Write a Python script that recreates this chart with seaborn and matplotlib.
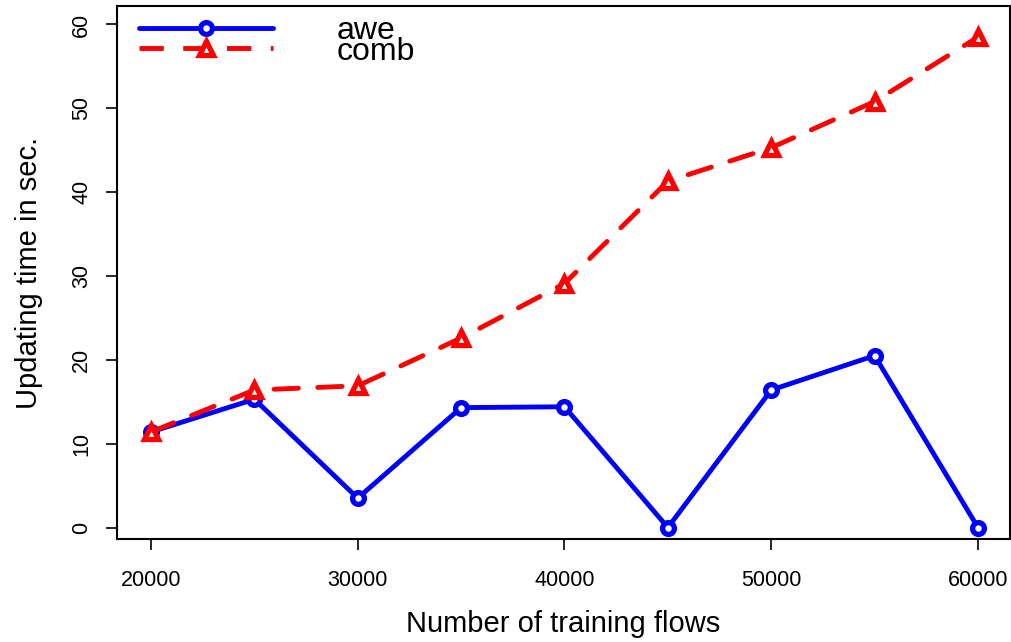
import matplotlib
matplotlib.use("Agg")
import matplotlib.pyplot as plt
import seaborn as sns
import pandas as pd
from matplotlib.lines import Line2D

flows = [20000, 25000, 30000, 35000, 40000, 45000, 50000, 55000, 60000]
awe = [11.4, 15.3, 3.5, 14.3, 14.4, 0.0, 16.4, 20.5, 0.0]
comb = [11.4, 16.4, 16.9, 22.6, 29.1, 41.3, 45.3, 50.8, 58.5]
x_ticks = [20000, 30000, 40000, 50000, 60000]
y_ticks = [0, 10, 20, 30, 40, 50, 60]

sns.set_theme(style="ticks")
plt.rcParams['font.family'] = ['Liberation Sans', 'DejaVu Sans']
plt.rcParams['text.color'] = 'black'
plt.rcParams['axes.labelcolor'] = 'black'

fig = plt.figure(figsize=(10.11, 6.42), dpi=100)
ax = fig.add_axes([117/1011, 1-539/642, (1010-117)/1011, (539-6)/642])

df_awe = pd.DataFrame({"x": flows, "y": awe})
df_comb = pd.DataFrame({"x": flows, "y": comb})

sns.lineplot(data=df_awe, x="x", y="y", ax=ax, color="#0000ff", lw=3.5,
             marker="o", markersize=8.5, markeredgewidth=3.8, markerfacecolor="white",
             markeredgecolor="#0000ff", solid_capstyle="round")
sns.lineplot(data=df_comb, x="x", y="y", ax=ax, color="#ff0000", lw=3.5,
             marker="^", markersize=10.5, markeredgewidth=3.8, markerfacecolor="white",
             markeredgecolor="#ff0000")
ax.lines[1].set_dashes((5, 4))
ax.lines[1].set_dash_capstyle("round")

ax.set_xlim(18355, 61550)
ax.set_ylim(-1.37, 62.2)
ax.set_xticks(x_ticks)
ax.set_xticklabels([str(v) for v in x_ticks])
ax.set_yticks(y_ticks)
ax.set_yticklabels([str(v) for v in y_ticks], rotation=90, va="center")
ax.tick_params(axis="both", direction="out", length=8, width=1.2, colors="black",
               labelcolor="black", labelsize=15.5, pad=14)
ax.tick_params(axis="y", pad=10)
for s in ax.spines.values():
    s.set_visible(True)
    s.set_linewidth(1.5)
    s.set_color("black")

ax.set_xlabel("Number of training flows", fontsize=21, labelpad=14, color="black")
ax.set_ylabel("Updating time in sec.", fontsize=21, labelpad=20, color="black")

handles = [
    Line2D([], [], color="#0000ff", lw=3.5, marker="o", markersize=8.5, markeredgewidth=3.8,
           markerfacecolor="white"),
    Line2D([], [], color="#ff0000", lw=3.5, ls=(0, (5, 4)), marker="^", markersize=10.5,
           markeredgewidth=3.8, markerfacecolor="white"),
]
leg = ax.legend(handles, ["awe", "comb"], loc="upper left", frameon=False,
                fontsize=23, handlelength=4.2, handletextpad=2.0, labelspacing=-0.3,
                borderaxespad=0.0, bbox_to_anchor=(0.01, 1.005))
for t in leg.get_texts():
    t.set_color("black")

fig.savefig("out.png", dpi=100)
